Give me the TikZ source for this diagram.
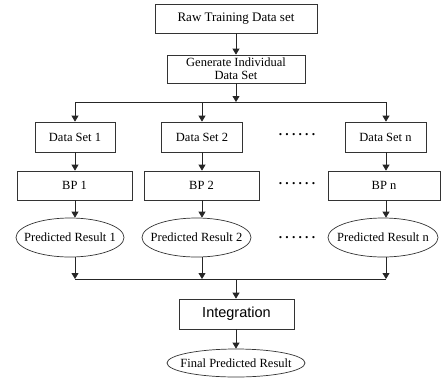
\documentclass[tikz,border=0pt]{standalone}
\usepackage{fontspec}
\setmainfont{Liberation Serif}
\newfontfamily\intfont{Liberation Sans}
\usetikzlibrary{arrows.meta,shapes.geometric}
\newcommand\dotrow{\textbf{.\hspace{3.2pt}.\hspace{3.2pt}.\hspace{3.2pt}.\hspace{3.2pt}.\hspace{3.2pt}.}}
\tikzset{
  lnk/.style={draw=black!85,line width=0.8pt},
  arr/.style={lnk,-{Triangle[length=6pt,width=7pt]}},
  boxn/.style={draw=black!80,line width=0.7pt,rectangle,inner sep=0pt,align=center,font=\fontsize{12.5}{13}\selectfont},
  ellip/.style={draw=black!80,line width=0.7pt,ellipse,inner sep=0pt,font=\fontsize{12.5}{13}\selectfont},
  dotsn/.style={inner sep=0pt,font=\fontsize{13.5}{14}\selectfont},
}
\begin{document}
\begin{tikzpicture}[x=1pt,y=-1pt]
\useasboundingbox (0,0) rectangle (441,378);
% top
\node[boxn,minimum width=162pt,minimum height=29pt,font=\fontsize{13}{14}\selectfont] (raw) at (236,18.5) {Raw Training Data set};
\node[boxn,minimum width=138pt,minimum height=28pt] (gen) at (236,69) {Generate Individual\\Data Set};
\draw[arr] (raw) -- (gen);
% split
\coordinate (sc) at (236,102);
\coordinate (s1) at (75,102);
\coordinate (s2) at (202,102);
\coordinate (sn) at (386,102);
\draw[arr] (gen) -- (sc);
\draw[lnk] (s1) -- (sn);
% data sets
\node[boxn,minimum width=80pt,minimum height=30pt] (ds1) at (75,137) {Data Set 1};
\node[boxn,minimum width=81pt,minimum height=30pt] (ds2) at (202,137) {Data Set 2};
\node[boxn,minimum width=81pt,minimum height=30pt] (dsn) at (385.5,137) {Data Set n};
\draw[arr] (s1) -- (ds1.north -| s1);
\draw[arr] (s2) -- (ds2.north -| s2);
\draw[arr] (sn) -- (dsn.north -| sn);
% BP
\node[boxn,minimum width=115pt,minimum height=29pt] (bp1) at (74.5,185.5) {BP 1};
\node[boxn,minimum width=115pt,minimum height=29pt] (bp2) at (201.5,185.5) {BP 2};
\node[boxn,minimum width=112pt,minimum height=29pt] (bpn) at (384,185.5) {BP n};
\draw[arr] (ds1.south -| s1) -- (bp1.north -| s1);
\draw[arr] (ds2.south -| s2) -- (bp2.north -| s2);
\draw[arr] (dsn.south -| sn) -- (bpn.north -| sn);
% results
\node[ellip,minimum width=108pt,minimum height=39pt] (e1) at (70,237.5) {\makebox[0pt]{Predicted Result 1}};
\node[ellip,minimum width=109pt,minimum height=39pt] (e2) at (196.5,237.5) {\makebox[0pt]{Predicted Result 2}};
\node[ellip,minimum width=110pt,minimum height=39pt] (en) at (383,237.5) {\makebox[0pt]{Predicted Result n}};
\draw[arr] (bp1.south -| s1) -- (e1.north -| s1);
\draw[arr] (bp2.south -| s2) -- (e2.north -| s2);
\draw[arr] (bpn.south -| sn) -- (en.north -| sn);
% dots
\node[dotsn] (d1) at (297,135) {\dotrow};
\node[dotsn] (d2) at (297,184) {\dotrow};
\node[dotsn] (d3) at (297,238) {\dotrow};
% merge
\coordinate (m1) at (75,279);
\coordinate (m2) at (202,279);
\coordinate (mn) at (386,279);
\coordinate (mc) at (236,279);
\draw[lnk] (m1) -- (mn);
\draw[arr] (e1.south -| m1) -- (m1);
\draw[arr] (e2.south -| m2) -- (m2);
\draw[arr] (en.south -| mn) -- (mn);
% integration
\node[boxn,minimum width=115pt,minimum height=30pt,font=\intfont\fontsize{14.5}{15}\selectfont] (int) at (236.5,314) {Integration};
\node[ellip,minimum width=138pt,minimum height=28pt] (fin) at (236,363) {\makebox[0pt]{Final Predicted Result}};
\draw[arr] (mc) -- (int.north -| mc);
\draw[arr] (int.south -| mc) -- (fin.north -| mc);
\end{tikzpicture}
\end{document}
